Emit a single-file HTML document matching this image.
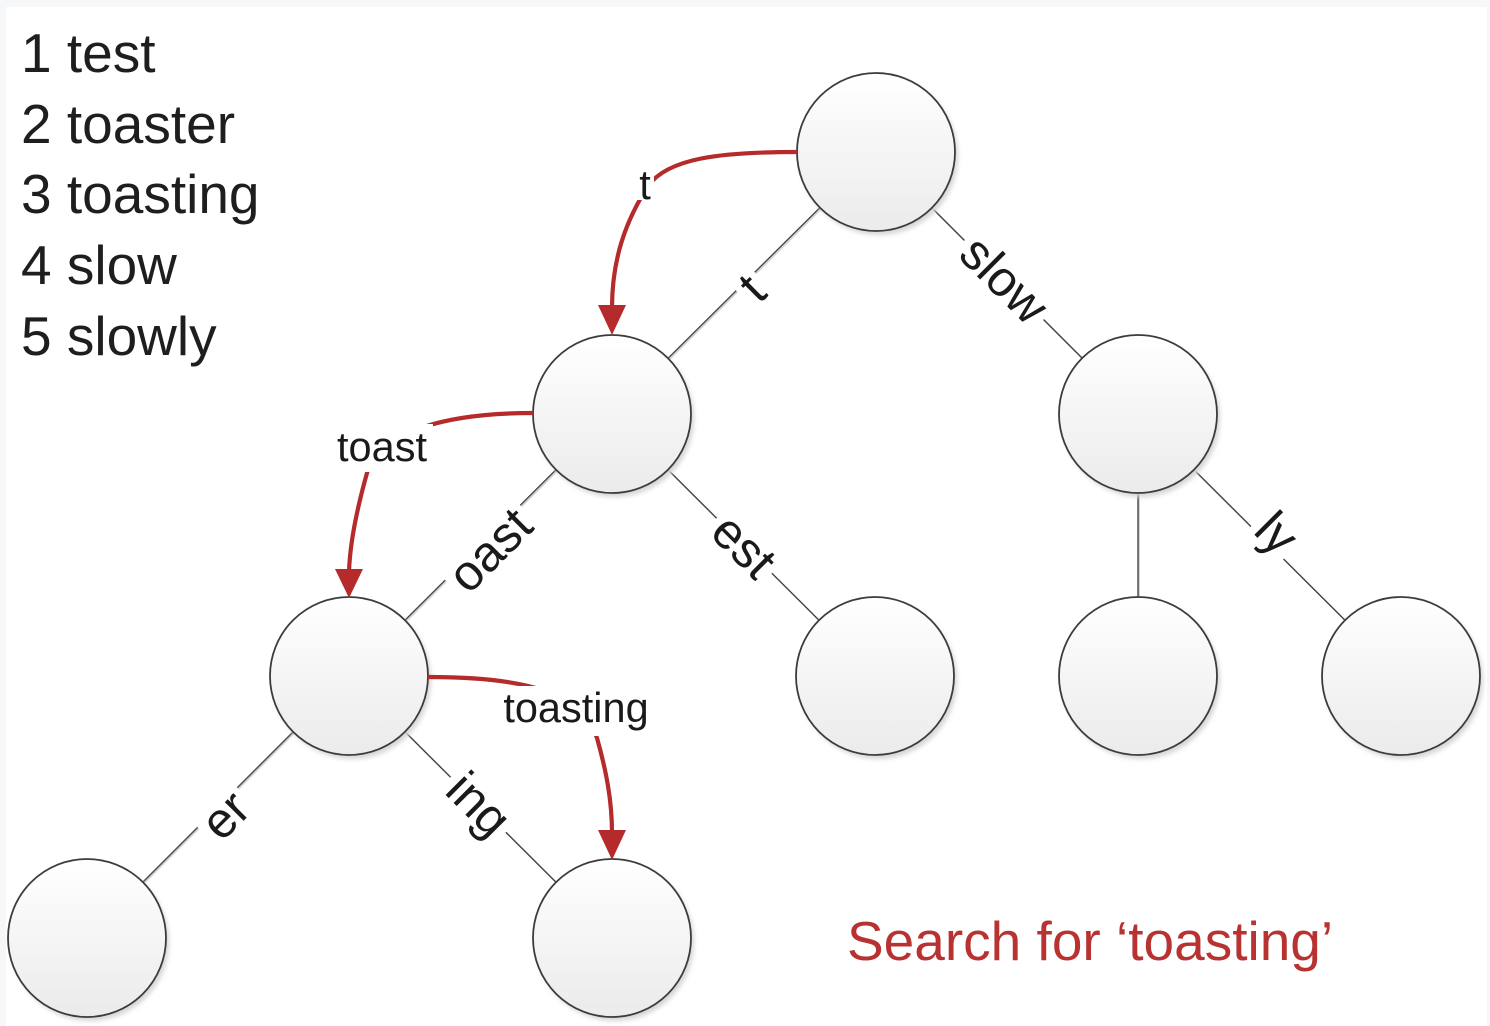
<!DOCTYPE html>
<html>
<head>
<meta charset="utf-8">
<style>
html,body{margin:0;padding:0;background:#f5f7f9;}
svg{display:block;}
</style>
</head>
<body>
<svg width="1490" height="1026" viewBox="0 0 1490 1026" xmlns="http://www.w3.org/2000/svg">
<defs>
<linearGradient id="cg" x1="0" y1="0" x2="0" y2="1">
<stop offset="0" stop-color="#ffffff"/>
<stop offset="1" stop-color="#ebebeb"/>
</linearGradient>
<filter id="sh" x="-20%" y="-20%" width="140%" height="140%">
<feGaussianBlur stdDeviation="2.5"/>
</filter>
</defs>
<rect x="0" y="0" width="1490" height="1026" fill="#f5f7f9"/>
<rect x="6" y="7" width="1481" height="1019" fill="#ffffff"/>

<!-- legend -->
<g font-family="Liberation Sans, Arial, sans-serif" font-size="55" fill="#1e1e1e">
<text x="21" y="72">1 test</text>
<text x="21" y="143">2 toaster</text>
<text x="21" y="213">3 toasting</text>
<text x="21" y="284">4 slow</text>
<text x="21" y="355">5 slowly</text>
</g>

<!-- gray edges -->
<g stroke="#d2d2d2" stroke-width="1.5" fill="none" transform="translate(1.2,1.2)">
<line x1="876" y1="152" x2="612" y2="414"/>
<line x1="876" y1="152" x2="1138" y2="414"/>
<line x1="612" y1="414" x2="349" y2="676"/>
<line x1="612" y1="414" x2="875" y2="676"/>
<line x1="1138" y1="414" x2="1138" y2="676"/>
<line x1="1138" y1="414" x2="1401" y2="676"/>
<line x1="349" y1="676" x2="87" y2="938"/>
<line x1="349" y1="676" x2="612" y2="938"/>
</g>
<g stroke="#454545" stroke-width="1.4" fill="none">
<line x1="876" y1="152" x2="612" y2="414"/>
<line x1="876" y1="152" x2="1138" y2="414"/>
<line x1="612" y1="414" x2="349" y2="676"/>
<line x1="612" y1="414" x2="875" y2="676"/>
<line x1="1138" y1="414" x2="1138" y2="676"/>
<line x1="1138" y1="414" x2="1401" y2="676"/>
<line x1="349" y1="676" x2="87" y2="938"/>
<line x1="349" y1="676" x2="612" y2="938"/>
</g>

<!-- edge labels -->
<g font-family="Liberation Sans, Arial, sans-serif" font-size="50" fill="#1a1a1a" text-anchor="middle">
<g transform="translate(752,288) rotate(-45)">
<rect x="-13" y="-16" width="26" height="32" fill="#fff"/>
<text x="0" y="17">t</text>
</g>
<g transform="translate(1005,279) rotate(45)">
<rect x="-56" y="-16" width="112" height="32" fill="#fff"/>
<text x="0" y="18">slow</text>
</g>
<g transform="translate(490,550) rotate(-45)">
<rect x="-53" y="-16" width="106" height="32" fill="#fff"/>
<text x="0" y="17">oast</text>
</g>
<g transform="translate(744,546) rotate(45)">
<rect x="-39" y="-16" width="78" height="32" fill="#fff"/>
<text x="0" y="17">est</text>
</g>
<g transform="translate(228,818) rotate(-45)">
<rect x="-28" y="-16" width="56" height="32" fill="#fff"/>
<text x="0" y="13">er</text>
</g>
<g transform="translate(476,807) rotate(45)">
<rect x="-39" y="-16" width="78" height="32" fill="#fff"/>
<text x="0" y="13">ing</text>
</g>
<g transform="translate(1274,536) rotate(45)">
<rect x="-23" y="-16" width="46" height="32" fill="#fff"/>
<text x="0" y="13">ly</text>
</g>
</g>

<!-- circles -->
<g>
<g fill="#d6d6d6" filter="url(#sh)">
<circle cx="879" cy="156" r="79"/>
<circle cx="615" cy="418" r="79"/>
<circle cx="1141" cy="418" r="79"/>
<circle cx="352" cy="680" r="79"/>
<circle cx="878" cy="680" r="79"/>
<circle cx="1141" cy="680" r="79"/>
<circle cx="1404" cy="680" r="79"/>
<circle cx="90" cy="942" r="79"/>
<circle cx="615" cy="942" r="79"/>
</g>
<g fill="url(#cg)" stroke="#3c3c3c" stroke-width="1.8">
<circle cx="876" cy="152" r="79"/>
<circle cx="612" cy="414" r="79"/>
<circle cx="1138" cy="414" r="79"/>
<circle cx="349" cy="676" r="79"/>
<circle cx="875" cy="676" r="79"/>
<circle cx="1138" cy="676" r="79"/>
<circle cx="1401" cy="676" r="79"/>
<circle cx="87" cy="938" r="79"/>
<circle cx="612" cy="938" r="79"/>
</g>
</g>

<!-- red search arrows -->
<g stroke="#b52a2a" stroke-width="4.2" fill="none" stroke-linecap="butt">
<path d="M797,152 C720,152 668,158 648,186 C625,222 612,260 612,308"/>
<path d="M533,413 C450,413 380,430 367,473 C358,505 350,540 349,572"/>
<path d="M428,677 C520,677 580,690 597,738 C606,770 612,800 612,833"/>
</g>
<g fill="#b52a2a">
<polygon points="598,305 626,305 612,335"/>
<polygon points="335,569 363,569 349,598"/>
<polygon points="598,830 626,830 612,860"/>
</g>

<!-- red arrow labels -->
<rect x="636" y="172" width="18" height="28" fill="#fff"/>
<rect x="333" y="424" width="100" height="48" fill="#fff"/>
<rect x="499" y="686" width="153" height="50" fill="#fff"/>
<g font-family="Liberation Sans, Arial, sans-serif" font-size="41.5" fill="#1a1a1a" text-anchor="middle">
<text x="645" y="199">t</text>
<text x="382" y="461">toast</text>
<text x="576" y="722">toasting</text>
</g>

<!-- caption -->
<text x="847" y="960" font-family="Liberation Sans, Arial, sans-serif" font-size="55" fill="#b83232">Search for ‘toasting’</text>
</svg>
</body>
</html>
